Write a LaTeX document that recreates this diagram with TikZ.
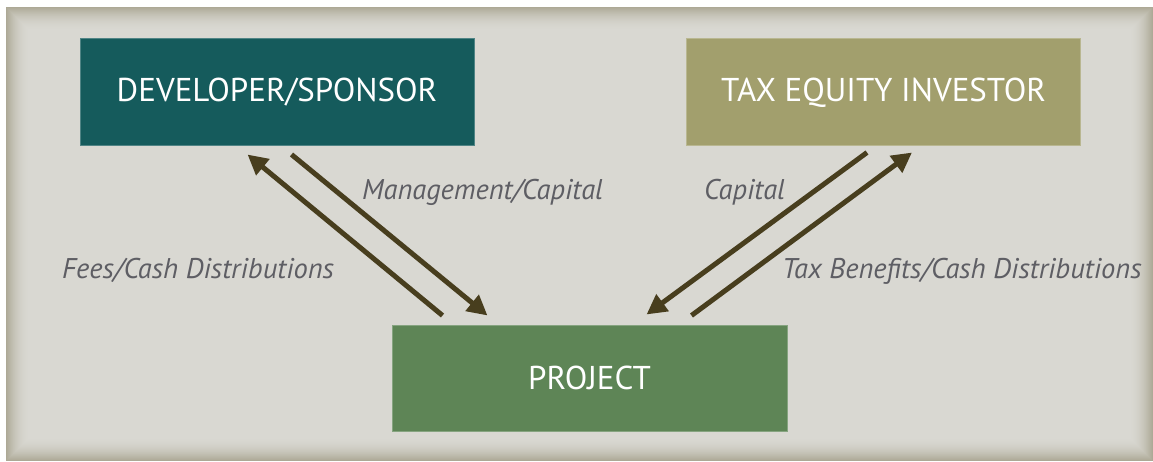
\documentclass[tikz,border=0pt]{standalone}
\usepackage{fontspec}
\setmainfont{PT Sans}
\usetikzlibrary{arrows.meta}

\definecolor{panel}{HTML}{D9D8D2}
\definecolor{paneledge}{HTML}{ADA996}
\definecolor{devcol}{HTML}{155B5C}
\definecolor{taxcol}{HTML}{A29F6D}
\definecolor{projcol}{HTML}{5E8556}
\definecolor{flowcol}{HTML}{483E1E}
\definecolor{labelcol}{HTML}{5E5E64}

\tikzset{
  party/.style={fill=#1,draw=white!25!#1,line width=1pt,minimum width=394pt,minimum height=107pt,
    inner sep=0pt,text=white,font=\fontsize{33}{37}\selectfont},
  flow/.style={draw=flowcol,line width=5pt,-{Triangle[length=20pt,width=20pt]}},
  flowlabel/.style={text=labelcol,inner sep=0pt,anchor=base west,font=\fontsize{28.5}{32}\selectfont\itshape}
}

\begin{document}
\begin{tikzpicture}[x=1pt,y=-1pt]
      \useasboundingbox[fill=white] (0,0) rectangle (1153,462);
      % shaded backdrop
      \foreach \i [evaluate=\i as \p using {100*(1-(1-\i/24)^2)}] in {0,...,24}
        \fill[panel!\p!paneledge] (6+\i,7+\i) rectangle (1153-\i,461-\i);

      \node[party=devcol] (dev) at (277,92.5) {DEVELOPER/SPONSOR};
      \node[party=taxcol] (tax) at (883.5,92.5) {TAX EQUITY INVESTOR};
      \node[party=projcol,minimum width=395pt,minimum height=106pt] (proj) at (589.5,378) {PROJECT};

      \draw[flow] ([xshift=51pt,yshift=9pt]proj.north west) -- ([xshift=168pt,yshift=-8pt]dev.south west);
      \draw[flow] ([xshift=212pt,yshift=-8pt]dev.south west) -- ([xshift=96pt,yshift=9pt]proj.north west);
      \draw[flow] ([xshift=181pt,yshift=-6pt]tax.south west) -- ([xshift=255pt,yshift=10pt]proj.north west);
      \draw[flow] ([xshift=300pt,yshift=9pt]proj.north west) -- ([xshift=226pt,yshift=-6pt]tax.south west);

      \node[flowlabel] (mgmt) at (362,200) {Management/Capital};
      \node[flowlabel] (fees) at (62,279) {Fees/Cash Distributions};
      \node[flowlabel] (cap) at (704,200) {Capital};
      \node[flowlabel] (taxben) at (782,279) {Tax Benefits/Cash Distributions};
    \end{tikzpicture}
\end{document}
